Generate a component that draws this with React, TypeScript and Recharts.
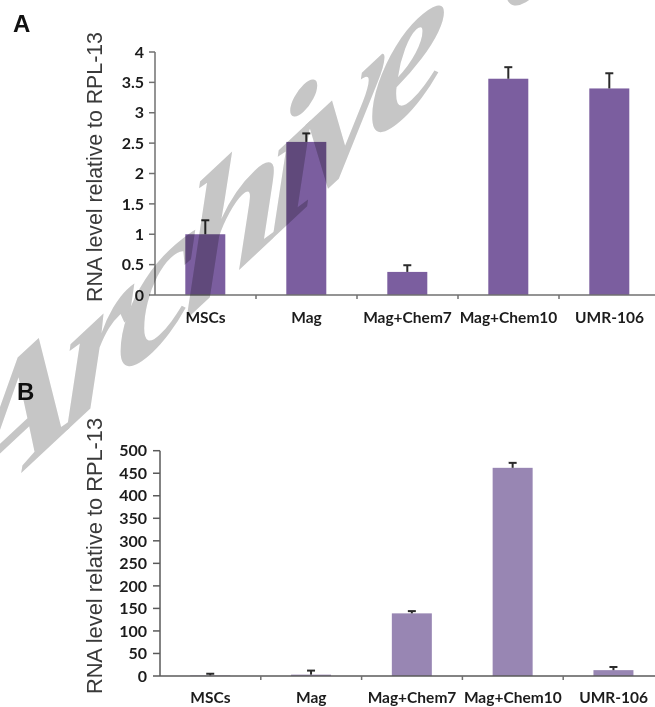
import React from 'react';
import { BarChart, Bar, XAxis, YAxis } from 'recharts';

// groups along the x axis (same for both panels)
const categories = ['MSCs', 'Mag', 'Mag+Chem7', 'Mag+Chem10', 'UMR-106'];

// panel A: relative RNA level, mean and upper error
const panelAValues = [1.0, 2.52, 0.38, 3.56, 3.4];
const panelAErrors = [0.23, 0.14, 0.11, 0.19, 0.25];
const panelATicks = [0, 0.5, 1, 1.5, 2, 2.5, 3, 3.5, 4];

// panel B
const panelBValues = [1, 3, 139, 462, 13];
const panelBErrors = [4, 9, 5, 11, 7];
const panelBTicks = [0, 50, 100, 150, 200, 250, 300, 350, 400, 450, 500];

const yTitle = 'RNA level relative to RPL-13';

const dataA = categories.map((name, i) => ({ name, value: panelAValues[i], err: panelAErrors[i] }));
const dataB = categories.map((name, i) => ({ name, value: panelBValues[i], err: panelBErrors[i] }));

const tickFont = { fontFamily: 'Lato, sans-serif', fontWeight: 700, fill: '#1c1c1c' };

// bar rectangle with a plus-only Excel style error bar on top
function BarWithError(props: any) {
  const { x, y, width, height, fill, payload } = props;
  if (!payload || !payload.value) return null;
  const pxPerUnit = height / payload.value;
  const errPx = payload.err * pxPerUnit;
  const cx = x + width / 2;
  const top = y - errPx;
  return (
    <g>
      <rect x={x} y={y} width={width} height={height} fill={fill} />
      <line x1={cx} x2={cx} y1={y} y2={top} stroke="#2b2b2b" strokeWidth={2} />
      <line x1={cx - 4} x2={cx + 4} y1={top} y2={top} stroke="#2b2b2b" strokeWidth={2} />
    </g>
  );
}

function makeCategoryTick(dy: number) {
  return function CategoryTick(props: any) {
    const { x, y, payload, index } = props;
    const half = payload && typeof payload.offset === 'number' ? payload.offset : 0;
    return (
      <g>
        {index > 0 && half > 0 && (
          <line x1={x - half} x2={x - half} y1={y} y2={y + 4} stroke="#707070" strokeWidth={1.5} />
        )}
        <text x={x} y={y + dy} textAnchor="middle" fontSize={15.5} {...tickFont}>
          {payload.value}
        </text>
      </g>
    );
  };
}

export default function App() {
  return (
    <div style={{ position: 'absolute', left: 0, top: 0, width: 655, height: 707, overflow: 'hidden', background: '#fff', isolation: 'isolate' }}>
      {/* Panel A */}
      <div style={{ position: 'absolute', left: 0, top: 0 }}>
        <BarChart width={660} height={330} data={dataA} margin={{ top: 52, right: 0, left: 95, bottom: 5 }} barCategoryGap="30%">
          <YAxis
            width={60}
            domain={[0, 4]}
            ticks={panelATicks}
            interval={0}
            tickSize={6}
            tickMargin={5}
            stroke="#707070"
            strokeWidth={1.5}
            tick={{ fontSize: 16, ...tickFont }}
          />
          <XAxis
            dataKey="name"
            height={30}
            tickSize={0}
            tickMargin={0}
            interval={0}
            stroke="#707070"
            strokeWidth={1.5}
            tick={makeCategoryTick(28)}
          />
          <Bar dataKey="value" fill="#7b5e9f" isAnimationActive={false} shape={BarWithError} />
        </BarChart>
      </div>

      {/* Panel B */}
      <div style={{ position: 'absolute', left: 0, top: 380 }}>
        <BarChart width={664} height={327} data={dataB} margin={{ top: 70.7, right: 0, left: 100, bottom: 1 }} barCategoryGap="30%">
          <YAxis
            width={60}
            domain={[0, 500]}
            ticks={panelBTicks}
            interval={0}
            tickSize={7}
            tickMargin={6}
            stroke="#5a5a5a"
            strokeWidth={1.5}
            tick={{ fontSize: 16, ...tickFont }}
          />
          <XAxis
            dataKey="name"
            height={30}
            tickSize={0}
            tickMargin={0}
            interval={0}
            stroke="#5a5a5a"
            strokeWidth={1.5}
            tick={makeCategoryTick(26.6)}
          />
          <Bar dataKey="value" fill="#9886b3" isAnimationActive={false} shape={BarWithError} />
        </BarChart>
      </div>

      {/* titles and panel letters */}
      <svg width={655} height={707} style={{ position: 'absolute', left: 0, top: 0, pointerEvents: 'none' }}>
        <text x={13} y={32} fontFamily="'Liberation Sans', Arial, sans-serif" fontWeight={700} fontSize={24} fill="#111">A</text>
        <text x={17} y={400} fontFamily="'Liberation Sans', Arial, sans-serif" fontWeight={700} fontSize={24} fill="#111">B</text>
        <text transform="translate(102,167) rotate(-90)" textAnchor="middle" fontFamily="'Liberation Sans', Arial, sans-serif" fontSize={21.3} fill="#3a3a3a">
          {yTitle}
        </text>
        <text transform="translate(102,556) rotate(-90)" textAnchor="middle" fontFamily="'Liberation Sans', Arial, sans-serif" fontSize={21.8} fill="#3a3a3a">
          {yTitle}
        </text>
      </svg>

      {/* archive watermark, multiplied over the figure */}
      <svg width={655} height={707} style={{ position: 'absolute', left: 0, top: 0, pointerEvents: 'none', mixBlendMode: 'multiply' }}>
        <text
          transform="translate(-42,532) skewY(-43)"
          fontFamily="'Liberation Serif', serif"
          fontWeight={700}
          fontStyle="italic"
          fontSize={180}
          letterSpacing={-15}
          fill="#c6c6c6"
        >
          Archive<tspan dx={40}> of SID</tspan>
        </text>
      </svg>
    </div>
  );
}
